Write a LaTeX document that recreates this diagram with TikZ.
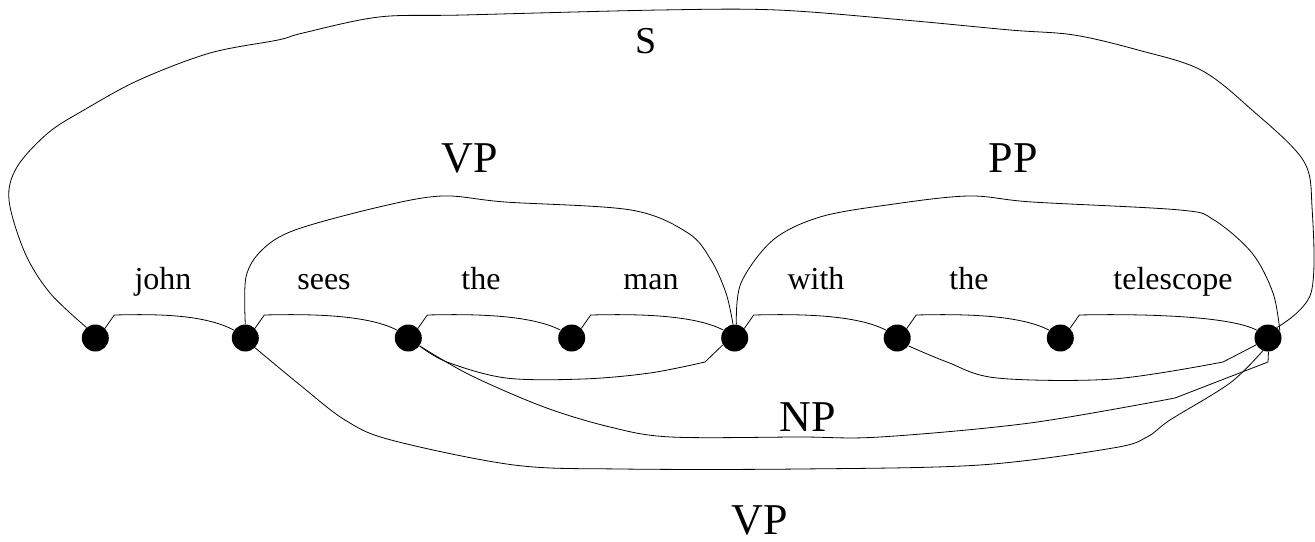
\documentclass[tikz,border=0pt]{standalone}
\usepackage{fontspec}
\setmainfont{Liberation Serif}
\usetikzlibrary{calc}
\tikzset{
  dot/.style={circle, fill=black, draw=none, minimum size=27pt, inner sep=0pt},
  link/.style={line width=0.8pt, black},
  word/.style={anchor=base, inner sep=0pt, font=\fontsize{32}{38}\selectfont},
  cat/.style={anchor=base, inner sep=0pt, font=\fontsize{44}{52}\selectfont},
  smallcat/.style={anchor=base, inner sep=0pt, font=\fontsize{38}{46}\selectfont},
}
\begin{document}
\begin{tikzpicture}[x=1pt, y=-1pt]
\useasboundingbox (0,0) rectangle (1315,541);

% dots
\node[dot] (d1) at (95.3,338) {};
\node[dot] (d2) at (245.3,338) {};
\node[dot] (d3) at (408.3,338) {};
\node[dot] (d4) at (571.7,338) {};
\node[dot] (d5) at (734.7,338) {};
\node[dot] (d6) at (897.2,338) {};
\node[dot] (d7) at (1060.3,338) {};
\node[dot] (d8) at (1268,338) {};

% words
\node[word] (w1) at (163,289) {john};
\node[word] (w2) at (324,289) {sees};
\node[word] (w3) at (481,289) {the};
\node[word] (w4) at (651,289) {man};
\node[word] (w5) at (816,289) {with};
\node[word] (w6) at (969,289) {the};
\node[word] (w7) at (1173,289) {telescope};

% category labels
\node[smallcat] (ls) at (646,53) {S};
\node[cat] (lvp) at (470,172) {VP};
\node[cat] (lpp) at (1013,172) {PP};
\node[cat] (lnp) at (808,431) {NP};
\node[cat] (lvp2) at (760,534) {VP};

% word edges
\foreach \a/\b in {d1/d2, d2/d3, d3/d4, d4/d5, d5/d6, d6/d7, d7/d8} {
  \draw[link] (\a.45) -- ($(\a)+(19,-23)$)
    .. controls ($(\a)+(60,-24)$) and ($(\b)+(-42,-24)$) .. (\b.145);
}

% VP (top)
\draw[link] plot[smooth, tension=0.55] coordinates {(d2.90) (246,277) (262,250) (295,230) (379,207) (442,196) (505,202) (631,210) (688,233) (711,260) (726,293) (d5.97)};

% PP (top)
\draw[link] plot[smooth, tension=0.55] coordinates {(d5.83) (741,283) (773,240) (820,217) (887,205) (968,196) (1032,202) (1180,210) (1214,220) (1252,253) (1273,293) (d8.30)};

% S
\draw[link] plot[smooth, tension=0.55] coordinates {(d1.130) (50,293) (25,253) (9,200) (17,167) (48,133) (84,110) (139,80) (210,53) (278,40) (303,33) (379,17) (463,15) (660,10) (777,10) (904,20) (1010,30) (1074,35) (1138,50) (1201,70) (1252,110) (1303,160) (1312,207) (1311,293) (d8.50)};

% NP inner (the man)
\draw[link] plot[smooth, tension=0.55] coordinates {(d3.-35) (447,362) (506,378) (583,379) (650,373) (705,362)} -- (d5.-150);

% inner (the telescope)
\draw[link] plot[smooth, tension=0.55] coordinates {(d6.-35) (947,362) (997,378) (1113,379) (1223,362)} -- (d8.-150);

% NP outer
\draw[link] plot[smooth, tension=0.55] coordinates {(d3.-35) (470,375) (544,407) (610,427) (671,437) (800,437) (880,437) (1030,423) (1175,398)} -- (1268,362) -- (d8.-88);

% VP outer (bottom)
\draw[link] plot[smooth, tension=0.55] coordinates {(d2.-45) (300,385) (345,420) (391,440) (514,465) (621,469) (800,469) (980,465) (1113,448) (1147,437) (1170,420) (1230,383) (d8.-112)};
\end{tikzpicture}
\end{document}
